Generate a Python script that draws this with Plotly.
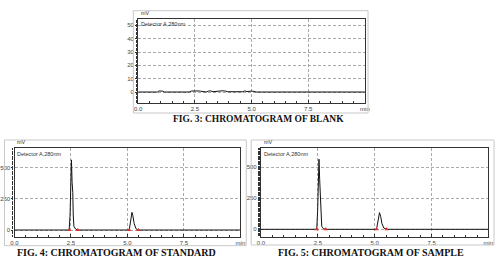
import plotly.graph_objects as go

# ---------------- data ----------------
blank_t = [0.0, 0.85, 0.92, 1.0, 1.08, 1.15, 2.25, 2.35, 2.5, 2.65, 2.75, 2.85, 3.0, 3.1, 3.2, 3.3,
           3.45, 3.55, 3.7, 3.85, 3.95, 4.6, 4.7, 4.8, 4.9, 5.0, 5.1, 5.2, 10.0]
blank_mv = [0.0, 0.0, 0.8, 0.9, 0.6, 0.0, 0.0, 0.7, 0.9, 0.8, 0.6, 0.3, 0.0, 0.7, 0.8, 0.2,
            0.6, 0.8, 0.9, 0.7, 0.2, 0.2, 0.8, 0.3, 0.6, 0.7, 0.5, 0.0, 0.0]

std_t = [0.0, 2.42, 2.46, 2.49, 2.52, 2.55, 2.58, 2.60, 2.63, 2.70, 2.80,
         5.08, 5.12, 5.16, 5.20, 5.24, 5.30, 5.38, 5.48, 10.0]
std_mv = [0.0, 0.0, 120.0, 420.0, 560.0, 380.0, 300.0, 120.0, 30.0, 8.0, 0.0,
          0.0, 50.0, 120.0, 141.0, 115.0, 50.0, 10.0, 0.0, 0.0]

smp_t = [0.0, 1.85, 1.9, 1.95, 2.45, 2.49, 2.52, 2.55, 2.58, 2.61, 2.64, 2.67, 2.74, 2.85,
         5.08, 5.12, 5.16, 5.21, 5.26, 5.32, 5.40, 5.52, 10.0]
smp_mv = [0.0, 0.0, 3.0, 0.0, 0.0, 150.0, 430.0, 565.0, 400.0, 250.0, 90.0, 25.0, 6.0, 0.0,
          0.0, 40.0, 110.0, 134.0, 105.0, 45.0, 10.0, 0.0, 0.0]

std_marks_t = [2.42, 2.80, 5.08, 5.48]
std_marks_mv = [0.0, 0.0, 0.0, 0.0]
smp_marks_t = [2.45, 2.85, 5.08, 5.52]
smp_marks_mv = [0.0, 0.0, 0.0, 0.0]

x_tickvals = [0, 2.5, 5, 7.5, 10]
x_ticktext = ["0.0", "2.5", "5.0", "7.5", "min"]
top_yticks = [0, 10, 20, 30, 40, 50]
bot_yticks = [0, 250, 500]

captions = ["FIG. 3: CHROMATOGRAM OF BLANK", "FIG. 4: CHROMATOGRAM OF STANDARD",
            "FIG. 5: CHROMATOGRAM OF SAMPLE"]

# ---------------- layout helpers ----------------
W, H = 501, 260
def px(x):
    return x / W
def py(y):
    return 1 - y / H

fig = go.Figure()

fig.add_trace(go.Scatter(x=blank_t, y=blank_mv, mode="lines", line=dict(color="#111", width=1),
                         xaxis="x", yaxis="y", showlegend=False))
fig.add_trace(go.Scatter(x=std_t, y=std_mv, mode="lines", line=dict(color="#111", width=1),
                         xaxis="x2", yaxis="y2", showlegend=False))
fig.add_trace(go.Scatter(x=std_marks_t, y=std_marks_mv, mode="markers",
                         marker=dict(symbol="triangle-up", size=4, color="#e03030"),
                         xaxis="x2", yaxis="y2", showlegend=False))
fig.add_trace(go.Scatter(x=smp_t, y=smp_mv, mode="lines", line=dict(color="#111", width=1),
                         xaxis="x3", yaxis="y3", showlegend=False))
fig.add_trace(go.Scatter(x=smp_marks_t, y=smp_marks_mv, mode="markers",
                         marker=dict(symbol="triangle-up", size=4, color="#e03030"),
                         xaxis="x3", yaxis="y3", showlegend=False))

tickfont = dict(family="Arial", size=6, color="#444")
def xax(dom, anchor):
    return dict(domain=dom, anchor=anchor, range=[0, 10], tickvals=x_tickvals, ticktext=x_ticktext,
                ticks="inside", ticklen=3, tickcolor="#333", tickfont=tickfont,
                showgrid=True, gridcolor="#aaa", griddash="3px,2px", gridwidth=0.7,
                showline=True, linecolor="#333", linewidth=1.2, mirror=True, zeroline=False,
                minor=dict(dtick=0.5, ticks="inside", ticklen=2, tickcolor="#333", showgrid=False),
                fixedrange=True)
def yax(dom, anchor, rng, tv):
    return dict(domain=dom, anchor=anchor, range=rng, tickvals=tv, ticks="outside", ticklen=2,
                tickcolor="#333", tickfont=tickfont,
                showgrid=True, gridcolor="#aaa", griddash="3px,2px", gridwidth=0.7,
                showline=True, linecolor="#333", linewidth=1.2, mirror=True, zeroline=False,
                minor=dict(nticks=25, ticks="outside", ticklen=1.5, tickcolor="#333", showgrid=False),
                fixedrange=True)

top_x = [px(136.7), px(367.5)]
top_y = [py(103), py(19)]
bl_x = [px(10.7), px(240.7)]
br_x = [px(261.7), px(493.3)]
bot_y = [py(236.7), py(148.3)]

fig.update_layout(
    width=W, height=H, margin=dict(l=0, r=0, t=0, b=0),
    paper_bgcolor="white", plot_bgcolor="white",
    xaxis=xax(top_x, "y"), yaxis=yax(top_y, "x", [-8.25, 54.75], top_yticks),
    xaxis2=xax(bl_x, "y2"), yaxis2=yax(bot_y, "x2", [-53.5, 652.6], bot_yticks),
    xaxis3=xax(br_x, "y3"), yaxis3=yax(bot_y, "x3", [-59.7, 653], bot_yticks),
)

# outer light borders
for (x0, y0, x1, y1) in [(131.7, 10.7, 370.7, 113), (0.5, 140, 246.7, 245.7), (251.7, 140, 499, 245)]:
    fig.add_shape(type="rect", xref="paper", yref="paper", x0=px(x0), x1=px(x1), y0=py(y1), y1=py(y0),
                  line=dict(color="#c8c8c8", width=1), fillcolor="rgba(0,0,0,0)")

small = dict(family="Arial", size=5.5, color="#333")
for (xl, yt) in [(136.7, 19), (10.7, 148.3), (261.7, 148.3)]:
    fig.add_annotation(xref="paper", yref="paper", x=px(xl + 1), y=py(yt - 1), text="mV",
                       showarrow=False, xanchor="left", yanchor="bottom", font=small)
    fig.add_annotation(xref="paper", yref="paper", x=px(xl + 1), y=py(yt + 0.5), text="Detector A,280nm",
                       showarrow=False, xanchor="left", yanchor="top", font=small)

capfont = dict(family="Liberation Serif, Times New Roman, serif", color="#111")
for (text, cx, cy, sz) in [(captions[0], 259.5, 118.7, 9.5), (captions[1], 115, 252.3, 10),
                            (captions[2], 374, 252.3, 10)]:
    fig.add_annotation(xref="paper", yref="paper", x=px(cx), y=py(cy), text="<b>" + text + "</b>",
                       showarrow=False, xanchor="center", yanchor="middle", font=dict(capfont, size=sz))

fig.write_html("out.html", config={"displayModeBar": False})
